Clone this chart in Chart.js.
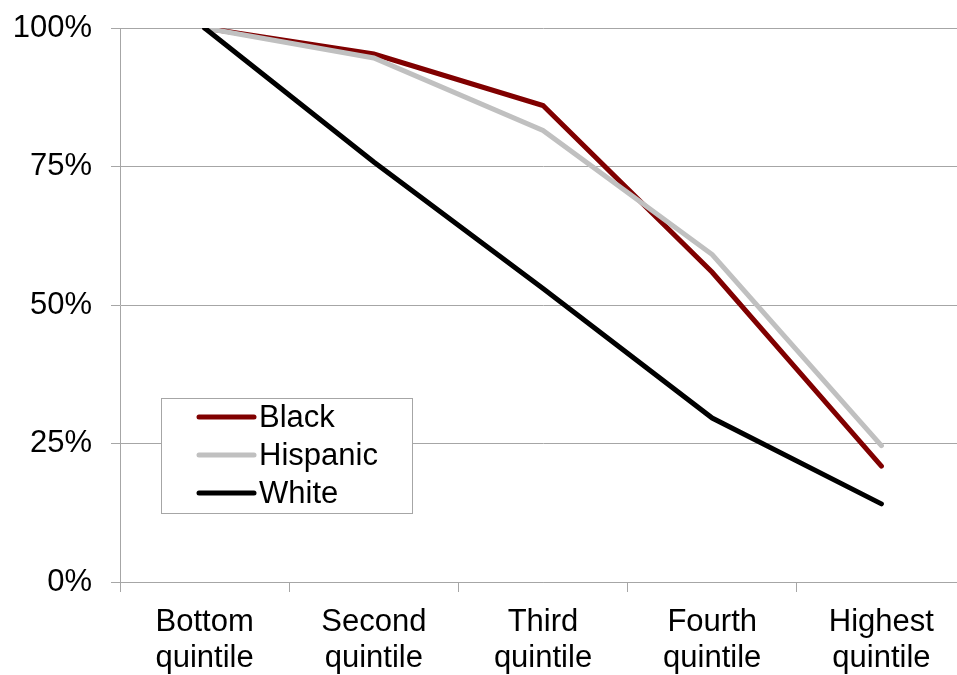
<!DOCTYPE html>
<html><head><meta charset="utf-8">
<script src="https://cdn.jsdelivr.net/npm/chart.js@4"></script>
<style>html,body{margin:0;padding:0;overflow:hidden;background:#fff}canvas{display:block}</style>
</head><body>
<canvas id="c" width="970" height="675"></canvas>
<script>
const categories = [['Bottom','quintile'],['Second','quintile'],['Third','quintile'],['Fourth','quintile'],['Highest','quintile']];
const seriesNames = ['Black','Hispanic','White'];
const black = [100, 95.3, 86.0, 55.9, 20.9];
const hispanic = [100, 94.6, 81.5, 59.1, 24.6];
const white = [100, 75.8, 53.0, 29.6, 14.1];
const yTickValues = [0, 25, 50, 75, 100];
const colors = ['#800000', '#c0c0c0', '#000000'];

const FONT = 'Liberation Sans, Arial, sans-serif';

const legendBox = {
  id: 'legendBox',
  afterDraw(chart, args, opts) {
    const ctx = chart.ctx, a = chart.chartArea;
    const x = a.left + opts.dx, y = a.top + opts.dy;
    ctx.save();
    ctx.fillStyle = '#fff';
    ctx.fillRect(x, y, opts.w, opts.h);
    ctx.strokeStyle = '#a6a6a6';
    ctx.lineWidth = 1;
    ctx.strokeRect(x + 0.5, y + 0.5, opts.w, opts.h);
    ctx.font = opts.fontSize + 'px ' + FONT;
    ctx.textBaseline = 'middle';
    chart.data.datasets.forEach((ds, i) => {
      const cy = y + opts.firstRow + i * opts.rowGap;
      ctx.strokeStyle = ds.borderColor;
      ctx.lineWidth = 5;
      ctx.lineCap = 'round';
      ctx.beginPath();
      ctx.moveTo(x + opts.lineStart, cy);
      ctx.lineTo(x + opts.lineStart + opts.lineLen, cy);
      ctx.stroke();
      ctx.fillStyle = '#000';
      ctx.fillText(ds.label, x + opts.textStart, cy + 1);
    });
    ctx.restore();
  }
};

new Chart(document.getElementById('c'), {
  type: 'line',
  data: {
    labels: categories,
    datasets: [
      { label: seriesNames[0], data: black, borderColor: colors[0], order: 3 },
      { label: seriesNames[1], data: hispanic, borderColor: colors[1], order: 2 },
      { label: seriesNames[2], data: white, borderColor: colors[2], order: 1 }
    ].map(d => Object.assign(d, { borderWidth: 5, pointRadius: 0, tension: 0, fill: false, borderCapStyle: 'round', borderJoinStyle: 'miter' }))
  },
  options: {
    responsive: false,
    animation: false,
    layout: { padding: { top: 28, right: 4, left: 0, bottom: 0 } },
    plugins: {
      legend: { display: false },
      tooltip: { enabled: false },
      legendBox: { dx: 41, dy: 370, w: 251, h: 115, firstRow: 19, rowGap: 38, lineStart: 38, lineLen: 55, textStart: 98, fontSize: 31 }
    },
    scales: {
      x: {
        offset: true,
        grid: { display: true, drawOnChartArea: false, drawTicks: true, tickLength: 10, color: '#a6a6a6', offset: true },
        border: { display: true, color: '#a6a6a6' },
        ticks: { color: '#000', font: { family: FONT, size: 31, lineHeight: 1.17 }, padding: 12, maxRotation: 0, autoSkip: false },
        afterFit(s) { s.height = 93; }
      },
      y: {
        min: 0, max: 100,
        afterBuildTicks(s) { s.ticks = yTickValues.map(v => ({ value: v })); },
        grid: { color: '#a6a6a6', tickLength: 9, drawTicks: true },
        border: { display: true, color: '#a6a6a6' },
        ticks: { color: '#000', font: { family: FONT, size: 31 }, padding: 19, callback: v => v + '%' },
        afterFit(s) { s.width = 120; s.paddingTop = 10; s.paddingBottom = 10; }
      }
    }
  },
  plugins: [legendBox]
});
</script>
</body></html>
